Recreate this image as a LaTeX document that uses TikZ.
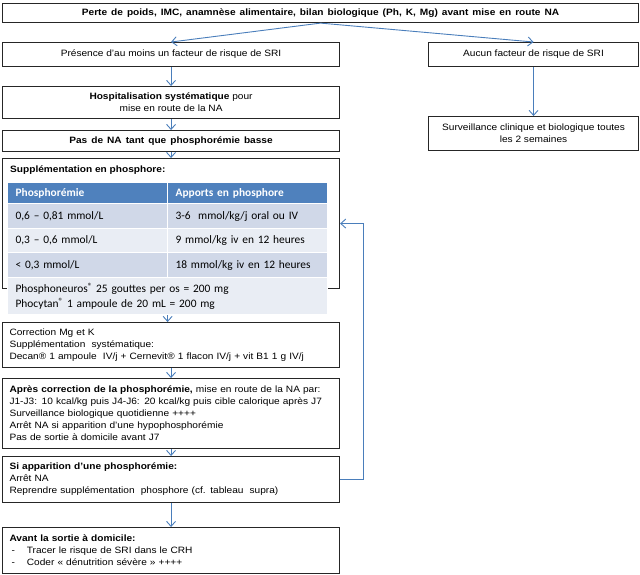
\documentclass[tikz,border=0pt]{standalone}
\usepackage{fontspec}
\setmainfont[FakeStretch=1.1]{Liberation Sans}
\newfontfamily\calfont{Carlito}
\usetikzlibrary{arrows.meta}
\definecolor{arrowblue}{RGB}{74,126,187}
\definecolor{hdrblue}{RGB}{79,129,189}
\definecolor{banddark}{RGB}{208,216,232}
\definecolor{bandlight}{RGB}{233,237,244}
\newcommand{\regm}{{\fontsize{9}{9}\selectfont\raisebox{3pt}{®}}}
\newcommand{\widesp}{\spaceskip=4pt plus 1pt minus 0pt\relax}
\begin{document}
\begin{tikzpicture}[x=1pt,y=-1pt,
  box/.style={draw=black!85, line width=1.1pt, rectangle, inner sep=0pt, anchor=north west, font=\fontsize{9.2}{12}\selectfont},
  lbox/.style={box, align=left, inner xsep=7pt, text width=#1},
  lbox/.default=323pt,
  cbox/.style={box, align=center},
  bbox/.style={cbox, font=\bfseries\fontsize{9.2}{12}\selectfont\widesp},
  arr/.style={draw=arrowblue, line width=0.9pt, -{Straight Barb[length=5pt,width=9pt,line width=0.9pt]}},
  cell/.style={draw=white, line width=1.2pt, rectangle, inner ysep=0pt, inner xsep=8pt, anchor=north west, align=left, text width=144pt, font=\calfont\fontsize{11.4}{15}\selectfont},
  hcell/.style={cell, fill=hdrblue, text=white, font=\calfont\bfseries\fontsize{11.4}{15}\selectfont},
]
\useasboundingbox (0,0) rectangle (640,574);

\node[bbox, minimum width=636pt, minimum height=19pt] (top) at (2,3)
  {Perte de poids, IMC, anamnèse alimentaire, bilan biologique (Ph, K, Mg) avant mise en route NA};
\node[cbox, minimum width=337pt, minimum height=24pt] (pres) at (2,42)
  {Présence d’au moins un facteur de risque de SRI};
\node[cbox, minimum width=210pt, minimum height=24pt] (aucun) at (428,42)
  {Aucun facteur de risque de SRI};
\node[cbox, minimum width=337pt, minimum height=32pt] (hosp) at (2,86)
  {\textbf{Hospitalisation systématique} pour\\mise en route de la NA};
\node[cbox, minimum width=210pt, minimum height=34pt] (surv) at (428,116)
  {Surveillance clinique et biologique toutes\\les 2 semaines};
\node[bbox, minimum width=337pt, minimum height=21pt] (pas) at (2,130)
  {Pas de NA tant que phosphorémie basse};

\node[box, minimum width=337pt, minimum height=130pt] (supp) at (2,158) {};
\node[anchor=west, inner sep=0pt, font=\bfseries\fontsize{9.2}{12}\selectfont] (supptitle) at (10,170)
  {Supplémentation en phosphore:};

\node[hcell, minimum height=21pt] (h1) at (7,182) {Phosphorémie};
\node[hcell, minimum height=21pt] (h2) at (167,182) {Apports en phosphore};
\node[cell, fill=banddark, minimum height=25pt] (r1a) at (7,203) {0,6 – 0,81 mmol/L};
\node[cell, fill=banddark, minimum height=25pt] (r1b) at (167,203) {3-6~ mmol/kg/j oral ou IV};
\node[cell, fill=bandlight, minimum height=24pt] (r2a) at (7,228) {0,3 – 0,6 mmol/L};
\node[cell, fill=bandlight, minimum height=24pt] (r2b) at (167,228) {9 mmol/kg iv en 12 heures};
\node[cell, fill=banddark, minimum height=25pt] (r3a) at (7,252) {< 0,3 mmol/L};
\node[cell, fill=banddark, minimum height=25pt] (r3b) at (167,252) {18 mmol/kg iv en 12 heures};
\node[cell, fill=bandlight, minimum height=37pt, text width=304pt] (note) at (7,277)
  {Phosphoneuros\regm{} 25 gouttes per os = 200 mg\\Phocytan\regm{} 1 ampoule de 20 mL = 200 mg};

\node[lbox, minimum width=337pt, minimum height=45pt] (corr) at (2,322)
  {Correction Mg et K\\Supplémentation\ \ systématique:\\Decan® 1 ampoule\ \ IV/j + Cernevit® 1 flacon IV/j + vit B1 1 g IV/j};
\node[lbox, minimum width=337pt, minimum height=70pt] (apres) at (2,378)
  {\textbf{Après correction de la phosphorémie,} mise en route de la NA par:\\
   J1-J3: 10 kcal/kg puis J4-J6: 20 kcal/kg puis cible calorique après J7\\
   Surveillance biologique quotidienne ++++\\
   Arrêt NA si apparition d’une hypophosphorémie\\
   Pas de sortie à domicile avant J7};
\node[lbox, minimum width=337pt, minimum height=46pt] (si) at (2,456)
  {\textbf{Si apparition d’une phosphorémie:}\\
   Arrêt NA\\
   Reprendre supplémentation\ \ phosphore (cf. tableau\ \ supra)};
\node[lbox, minimum width=337pt, minimum height=46pt] (avant) at (2,527)
  {\textbf{Avant la sortie à domicile:}\\
   \hspace{2pt}-\hspace{12pt}Tracer le risque de SRI dans le CRH\\
   \hspace{2pt}-\hspace{12pt}Coder « dénutrition sévère » ++++};

\draw[arr] (top.south) -- (pres.north);
\draw[arr] (top.south) -- (aucun.north);
\draw[arr] (pres.south) -- (hosp.north);
\draw[arr] (aucun.south) -- (surv.north);
\draw[arr] (hosp.south) -- (pas.north);
\draw[arr] (pas.south) -- (supp.north);
\draw[arr] (note.south) -- (note.south |- corr.north);
\draw[arr] (corr.south) -- (apres.north);
\draw[arr] (apres.south) -- (si.north);
\draw[arr] (si.south) -- (avant.north);
\draw[arr] (si.east) -- ++(23,0) |- (supp.east);
\end{tikzpicture}
\end{document}
